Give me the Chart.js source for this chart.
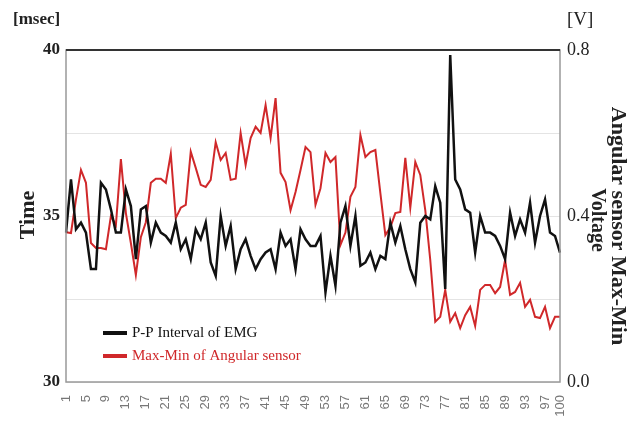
<!DOCTYPE html>
<html>
<head>
<meta charset="utf-8">
<script src="https://cdn.jsdelivr.net/npm/chart.js@4"></script>
<style>
  body { margin: 0; background: #fff; }
  #wrap { width: 634px; height: 428px; }
</style>
</head>
<body>
<div id="wrap"><canvas id="emgChart" width="634" height="428"></canvas></div>
<script>
// x categories: measurement number 1..100
const categories = [];
for (let n = 1; n <= 100; n++) categories.push(String(n));
const tickLabels = ['1','5','9','13','17','21','25','29','33','37','41','45','49','53','57','61','65','69','73','77','81','85','89','93','97','100'];

// P-P interval of EMG [msec]
const ppInterval = [
  34.5, 36.1, 34.6, 34.8, 34.5, 33.4, 33.4, 36.0, 35.8, 35.2,
  34.5, 34.5, 35.8, 35.3, 33.7, 35.2, 35.3, 34.2, 34.8, 34.5,
  34.4, 34.2, 34.8, 34.0, 34.3, 33.7, 34.6, 34.3, 34.8, 33.6,
  33.2, 35.0, 34.1, 34.7, 33.4, 34.0, 34.3, 33.8, 33.4, 33.7,
  33.9, 34.0, 33.4, 34.5, 34.1, 34.3, 33.4, 34.6, 34.3, 34.1,
  34.1, 34.4, 32.7, 33.8, 32.9, 34.8, 35.3, 34.1, 35.0, 33.5,
  33.6, 33.9, 33.4, 33.8, 33.7, 34.8, 34.2, 34.7, 34.0, 33.4,
  33.0, 34.8, 35.0, 34.9, 35.9, 35.4, 32.8, 39.85, 36.1, 35.8,
  35.2, 35.1, 33.9, 35.0, 34.5, 34.5, 34.4, 34.1, 33.7, 35.1,
  34.4, 34.9, 34.5, 35.4, 34.2, 35.0, 35.5, 34.5, 34.4, 33.9
];

// Max-Min of angular sensor [V]
const angularMaxMin = [
  0.361, 0.359, 0.44, 0.511, 0.48, 0.335, 0.323, 0.323, 0.32, 0.40,
  0.378, 0.537, 0.407, 0.335, 0.258, 0.349, 0.385, 0.48, 0.49, 0.49,
  0.48, 0.55, 0.395, 0.42, 0.427, 0.555, 0.516, 0.475, 0.47, 0.487,
  0.578, 0.535, 0.552, 0.487, 0.49, 0.60, 0.523, 0.588, 0.615, 0.60,
  0.667, 0.588, 0.684, 0.504, 0.482, 0.414, 0.458, 0.511, 0.566, 0.554,
  0.427, 0.467, 0.552, 0.53, 0.542, 0.33, 0.36, 0.446, 0.47, 0.595,
  0.542, 0.554, 0.559, 0.455, 0.354, 0.373, 0.407, 0.41, 0.54, 0.42,
  0.53, 0.499, 0.414, 0.294, 0.145, 0.157, 0.222, 0.145, 0.166, 0.13,
  0.161, 0.181, 0.135, 0.222, 0.234, 0.234, 0.214, 0.229, 0.294, 0.21,
  0.217, 0.239, 0.181, 0.198, 0.157, 0.154, 0.181, 0.13, 0.157, 0.157
];

const leftTicks = [30, 35, 40];
const rightTicks = [0.0, 0.4, 0.8];

const serif = '"Liberation Serif", "DejaVu Serif", serif';
Chart.defaults.font.family = serif;

// frame, unit labels, axis titles and legend drawn over the chart
const decorPlugin = {
  id: 'decor',
  afterDraw(chart) {
    const ctx = chart.ctx;
    const a = chart.chartArea;
    ctx.save();

    // plot frame
    ctx.strokeStyle = '#999';
    ctx.lineWidth = 1.5;
    ctx.strokeRect(a.left, a.top, a.right - a.left, a.bottom - a.top);
    ctx.strokeStyle = '#333';
    ctx.lineWidth = 2;
    ctx.beginPath();
    ctx.moveTo(a.left, a.top);
    ctx.lineTo(a.right, a.top);
    ctx.stroke();

    // units
    ctx.fillStyle = '#222';
    ctx.textBaseline = 'middle';
    ctx.textAlign = 'left';
    ctx.font = 'bold 17px ' + serif;
    ctx.fillText('[msec]', 13, 20);
    ctx.font = '19px ' + serif;
    ctx.fillText('[V]', 567, 20);

    // left title
    ctx.save();
    ctx.translate(28, 215);
    ctx.rotate(-Math.PI / 2);
    ctx.textAlign = 'center';
    ctx.font = 'bold 22px ' + serif;
    ctx.fillText('Time', 0, 0);
    ctx.restore();

    // right title
    ctx.save();
    ctx.translate(618, 226);
    ctx.rotate(Math.PI / 2);
    ctx.textAlign = 'center';
    ctx.font = 'bold 22px ' + serif;
    ctx.fillText('Angular sensor Max-Min', 0, 0);
    ctx.font = 'bold 20px ' + serif;
    ctx.fillText('Voltage', -6, 21);
    ctx.restore();

    // legend inside plot
    ctx.font = '15px ' + serif;
    ctx.textAlign = 'left';
    chart.data.datasets.forEach((ds, i) => {
      const y = 333 + i * 23;
      ctx.strokeStyle = ds.borderColor;
      ctx.lineWidth = 4;
      ctx.beginPath();
      ctx.moveTo(103, y);
      ctx.lineTo(127, y);
      ctx.stroke();
      ctx.fillStyle = ds.borderColor;
      ctx.fillText(ds.label, 132, y);
    });

    ctx.restore();
  }
};

new Chart(document.getElementById('emgChart'), {
  type: 'line',
  data: {
    labels: categories,
    datasets: [
      {
        label: 'P-P Interval of EMG',
        data: ppInterval,
        yAxisID: 'y',
        borderColor: '#111111',
        borderWidth: 2.5,
        pointRadius: 0,
        tension: 0
      },
      {
        label: 'Max-Min of Angular sensor',
        data: angularMaxMin,
        yAxisID: 'y1',
        borderColor: '#d0282a',
        borderWidth: 2,
        pointRadius: 0,
        tension: 0
      }
    ]
  },
  options: {
    responsive: false,
    animation: false,
    layout: { padding: { top: 50, left: 0, right: 0, bottom: 0 } },
    plugins: {
      legend: { display: false },
      tooltip: { enabled: false }
    },
    scales: {
      x: {
        grid: { display: false },
        border: { display: false },
        ticks: {
          autoSkip: false,
          minRotation: 90,
          maxRotation: 90,
          padding: 5,
          color: '#777',
          font: { family: '"Liberation Sans", sans-serif', size: 13 },
          callback: function(value, index) {
            const lbl = categories[index];
            return tickLabels.includes(lbl) ? lbl : '';
          }
        },
        afterFit: function(scale) { scale.height = 46; }
      },
      y: {
        position: 'left',
        min: 30,
        max: 40,
        grid: { color: '#e4e4e4', lineWidth: 1, drawTicks: false },
        border: { display: false },
        ticks: {
          stepSize: 2.5,
          padding: 6,
          color: '#222',
          font: { family: serif, size: 17, weight: 'bold' },
          callback: v => leftTicks.includes(v) ? String(v) : ''
        },
        afterFit: function(scale) { scale.width = 66; }
      },
      y1: {
        position: 'right',
        min: 0,
        max: 0.8,
        grid: { drawOnChartArea: false, drawTicks: false },
        border: { display: false },
        ticks: {
          stepSize: 0.2,
          padding: 7,
          color: '#222',
          font: { family: serif, size: 18 },
          callback: v => rightTicks.some(t => Math.abs(t - v) < 1e-6) ? v.toFixed(1) : ''
        },
        afterFit: function(scale) { scale.width = 74; }
      }
    }
  },
  plugins: [decorPlugin]
});
</script>
</body>
</html>
